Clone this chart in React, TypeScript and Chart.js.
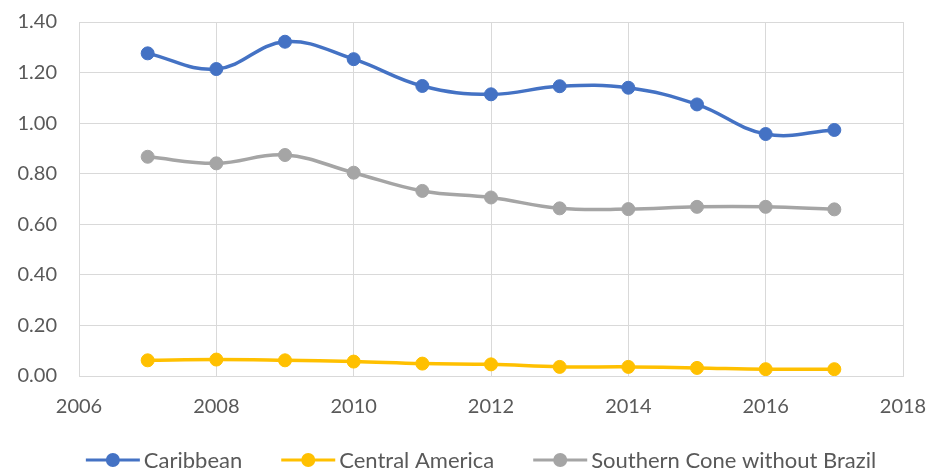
import React, { useEffect, useRef } from "react";
import { Chart, registerables } from "chart.js";

Chart.register(...registerables);

const years = [2007, 2008, 2009, 2010, 2011, 2012, 2013, 2014, 2015, 2016, 2017];
const caribbean = [1.276, 1.214, 1.322, 1.253, 1.147, 1.114, 1.146, 1.14, 1.074, 0.957, 0.973];
const centralAmerica = [0.062, 0.065, 0.062, 0.057, 0.049, 0.046, 0.036, 0.036, 0.032, 0.027, 0.027];
const southernCone = [0.867, 0.841, 0.874, 0.804, 0.732, 0.706, 0.663, 0.66, 0.669, 0.669, 0.659];
const seriesNames = ["Caribbean", "Central America", "Southern Cone without Brazil"];
const seriesColors = ["#4472C4", "#FFC000", "#A5A5A5"];
const xMin = 2006;
const xMax = 2018;
const xStep = 2;
const yMin = 0;
const yMax = 1.4;
const yStep = 0.2;

const FONT = "Lato, 'Open Sans', sans-serif";
const TEXT_COLOR = "#595959";
const GRID_COLOR = "#D9D9D9";

const legendPlugin = {
  id: "excelLegend",
  afterDraw(chart: any) {
    const ctx = chart.ctx as CanvasRenderingContext2D;
    ctx.save();
    ctx.font = `22px ${FONT}`;
    const iconW = 54;
    const gapText = 4;
    const gapItem = 39;
    const widths = seriesNames.map((n) => ctx.measureText(n).width);
    let total = 0;
    widths.forEach((w, i) => {
      total += iconW + gapText + w + (i < widths.length - 1 ? gapItem : 0);
    });
    const centerX = 481;
    const cy = 460;
    let x = centerX - total / 2;
    seriesNames.forEach((name, i) => {
      const color = seriesColors[i];
      ctx.strokeStyle = color;
      ctx.lineWidth = 3;
      ctx.beginPath();
      ctx.moveTo(x, cy);
      ctx.lineTo(x + iconW, cy);
      ctx.stroke();
      ctx.fillStyle = color;
      ctx.beginPath();
      ctx.arc(x + iconW / 2, cy, 7, 0, Math.PI * 2);
      ctx.fill();
      ctx.fillStyle = TEXT_COLOR;
      ctx.textBaseline = "middle";
      ctx.textAlign = "left";
      ctx.fillText(name, x + iconW + gapText, cy + 1);
      x += iconW + gapText + widths[i] + gapItem;
    });
    ctx.restore();
  },
};

export default function App() {
  const canvasRef = useRef<HTMLCanvasElement | null>(null);

  useEffect(() => {
    if (!canvasRef.current) return;
    const seriesData = [caribbean, centralAmerica, southernCone];
    const chart = new Chart(canvasRef.current, {
      type: "line",
      data: {
        datasets: seriesNames.map((name, i) => ({
          label: name,
          data: years.map((y, j) => ({ x: y, y: seriesData[i][j] })),
          borderColor: seriesColors[i],
          backgroundColor: seriesColors[i],
          pointBackgroundColor: seriesColors[i],
          pointBorderColor: seriesColors[i],
          borderWidth: 3.5,
          pointRadius: 6.5,
          pointBorderWidth: 1,
          pointHoverRadius: 6.5,
          tension: 0.4,
          fill: false,
        })),
      },
      options: {
        animation: false,
        responsive: false,
        maintainAspectRatio: false,
        layout: { padding: { left: 0, right: 26, top: 22, bottom: 44 } },
        plugins: {
          legend: { display: false },
          tooltip: { enabled: false },
        },
        scales: {
          x: {
            type: "linear",
            min: xMin,
            max: xMax,
            ticks: {
              stepSize: xStep,
              color: TEXT_COLOR,
              font: { family: FONT, size: 20 },
              padding: 19,
              callback: (v: any) => String(v),
              maxRotation: 0,
            },
            grid: { color: GRID_COLOR, lineWidth: 1, drawTicks: false },
            border: { color: GRID_COLOR, width: 1 },
            afterFit: (scale: any) => {
              scale.height = 50;
              scale.paddingLeft = 0;
              scale.paddingRight = 0;
              scale.paddingTop = 0;
              scale.paddingBottom = 0;
            },
          },
          y: {
            min: yMin,
            max: yMax,
            ticks: {
              stepSize: yStep,
              color: TEXT_COLOR,
              font: { family: FONT, size: 20 },
              padding: 22,
              callback: (v: any) => Number(v).toFixed(2),
            },
            grid: { color: GRID_COLOR, lineWidth: 1, drawTicks: false },
            border: { color: GRID_COLOR, width: 1 },
            afterFit: (scale: any) => {
              scale.width = 79;
              scale.paddingTop = 0;
              scale.paddingBottom = 0;
              scale.paddingLeft = 0;
              scale.paddingRight = 0;
            },
          },
        },
      },
      plugins: [legendPlugin],
    });
    return () => chart.destroy();
  }, []);

  return (
    <div style={{ position: "fixed", left: 0, top: 0, width: 929, height: 470, background: "#fff" }}>
      <canvas ref={canvasRef} width={929} height={470} style={{ display: "block" }} />
    </div>
  );
}
